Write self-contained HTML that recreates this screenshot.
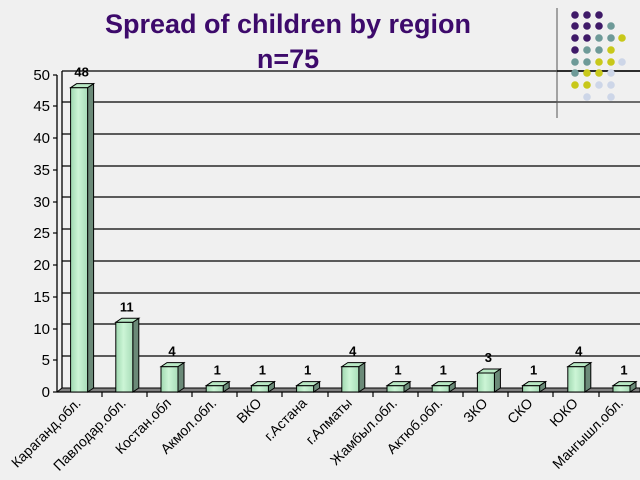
<!DOCTYPE html>
<html><head><meta charset="utf-8"><style>
body{margin:0;background:#f0f0f0;}
svg{display:block;font-family:"Liberation Sans",Arial,sans-serif;}
</style></head><body>
<svg id="s" width="640" height="480" viewBox="0 0 640 480">
<defs>
<linearGradient id="bf" x1="0" x2="1" y1="0" y2="0">
<stop offset="0" stop-color="#9fd8b0"/><stop offset="0.45" stop-color="#ccf5d6"/><stop offset="1" stop-color="#a8dcb8"/>
</linearGradient>
</defs>
<rect width="640" height="480" fill="#f0f0f0"/>
<g stroke="#000" stroke-width="1.3">
<line x1="62" y1="71" x2="640" y2="71"/>
<line x1="62" y1="102" x2="640" y2="102"/>
<line x1="62" y1="134" x2="640" y2="134"/>
<line x1="62" y1="166" x2="640" y2="166"/>
<line x1="62" y1="197" x2="640" y2="197"/>
<line x1="62" y1="229" x2="640" y2="229"/>
<line x1="62" y1="261" x2="640" y2="261"/>
<line x1="62" y1="293" x2="640" y2="293"/>
<line x1="62" y1="324" x2="640" y2="324"/>
<line x1="62" y1="356" x2="640" y2="356"/>
<line x1="62" y1="71" x2="62" y2="388"/>
</g>
<polygon points="57,392 62,388 640,388 640,392" fill="#808080" stroke="#000" stroke-width="1"/>
<line x1="57" y1="392" x2="640" y2="392" stroke="#000" stroke-width="1.3"/>
<line x1="57" y1="75" x2="57" y2="392" stroke="#000" stroke-width="1.3"/>
<g stroke="#000" stroke-width="1.2">
<line x1="53" y1="75" x2="57" y2="75"/><line x1="53" y1="106" x2="57" y2="106"/>
<line x1="53" y1="138" x2="57" y2="138"/><line x1="53" y1="170" x2="57" y2="170"/>
<line x1="53" y1="202" x2="57" y2="202"/><line x1="53" y1="233" x2="57" y2="233"/>
<line x1="53" y1="265" x2="57" y2="265"/><line x1="53" y1="297" x2="57" y2="297"/>
<line x1="53" y1="329" x2="57" y2="329"/><line x1="53" y1="360" x2="57" y2="360"/>
<line x1="53" y1="392" x2="57" y2="392"/>
</g>
<g font-size="15" fill="#000" text-anchor="end">
<text x="50" y="80">50</text><text x="50" y="111">45</text><text x="50" y="143">40</text>
<text x="50" y="175">35</text><text x="50" y="207">30</text><text x="50" y="238">25</text>
<text x="50" y="270">20</text><text x="50" y="302">15</text><text x="50" y="334">10</text>
<text x="50" y="365">5</text><text x="50" y="397">0</text>
</g>
<g stroke="#000" stroke-width="1.2">
<line x1="102" y1="392" x2="102" y2="397"/><line x1="147" y1="392" x2="147" y2="397"/>
<line x1="192" y1="392" x2="192" y2="397"/><line x1="237" y1="392" x2="237" y2="397"/>
<line x1="282" y1="392" x2="282" y2="397"/><line x1="328" y1="392" x2="328" y2="397"/>
<line x1="373" y1="392" x2="373" y2="397"/><line x1="418" y1="392" x2="418" y2="397"/>
<line x1="463" y1="392" x2="463" y2="397"/><line x1="508" y1="392" x2="508" y2="397"/>
<line x1="553" y1="392" x2="553" y2="397"/><line x1="599" y1="392" x2="599" y2="397"/>
</g>
<g id="bars" stroke="#000" stroke-width="1"></g>
<g fill="#3d0a6b" font-weight="bold" text-anchor="middle" font-size="27">
<text x="288" y="33">Spread of children by region</text>
<text x="288" y="68">n=75</text>
</g>
<line x1="557" y1="8" x2="557" y2="118" stroke="#555" stroke-width="1"/>
<line x1="557" y1="71" x2="640" y2="71" stroke="#000" stroke-width="1.5"/>
<line x1="557" y1="102" x2="640" y2="102" stroke="#555" stroke-width="1.5"/>
<g>
<circle cx="575" cy="15" r="3.8" fill="#3f1a68"/><circle cx="587" cy="15" r="3.8" fill="#3f1a68"/><circle cx="599" cy="15" r="3.8" fill="#3f1a68"/>
<circle cx="575" cy="26" r="3.8" fill="#3f1a68"/><circle cx="587" cy="26" r="3.8" fill="#3f1a68"/><circle cx="599" cy="26" r="3.8" fill="#3f1a68"/><circle cx="611" cy="26" r="3.8" fill="#6e9a98"/>
<circle cx="575" cy="38" r="3.8" fill="#3f1a68"/><circle cx="587" cy="38" r="3.8" fill="#3f1a68"/><circle cx="599" cy="38" r="3.8" fill="#6e9a98"/><circle cx="611" cy="38" r="3.8" fill="#6e9a98"/><circle cx="622" cy="38" r="3.8" fill="#c8c81a"/>
<circle cx="575" cy="50" r="3.8" fill="#3f1a68"/><circle cx="587" cy="50" r="3.8" fill="#6e9a98"/><circle cx="599" cy="50" r="3.8" fill="#6e9a98"/><circle cx="611" cy="50" r="3.8" fill="#c8c81a"/>
<circle cx="575" cy="62" r="3.8" fill="#6e9a98"/><circle cx="587" cy="62" r="3.8" fill="#6e9a98"/><circle cx="599" cy="62" r="3.8" fill="#c8c81a"/><circle cx="611" cy="62" r="3.8" fill="#c8c81a"/><circle cx="622" cy="62" r="3.8" fill="#cdd6e8"/>
<circle cx="575" cy="73" r="3.8" fill="#6e9a98"/><circle cx="587" cy="73" r="3.8" fill="#c8c81a"/><circle cx="599" cy="73" r="3.8" fill="#c8c81a"/><circle cx="611" cy="73" r="3.8" fill="#cdd6e8"/>
<circle cx="575" cy="85" r="3.8" fill="#c8c81a"/><circle cx="587" cy="85" r="3.8" fill="#c8c81a"/><circle cx="599" cy="85" r="3.8" fill="#cdd6e8"/><circle cx="611" cy="85" r="3.8" fill="#cdd6e8"/>
<circle cx="587" cy="97" r="3.8" fill="#cdd6e8"/><circle cx="611" cy="97" r="3.8" fill="#cdd6e8"/>
</g>
</svg>
<script>
(function(){
var vals=[48,11,4,1,1,1,4,1,1,3,1,4,1];
var labels=["Караганд.обл.","Павлодар.обл.","Костан.обл","Акмол.обл.","ВКО","г.Астана","г.Алматы","Жамбыл.обл.","Актюб.обл.","ЗКО","СКО","ЮКО","Мангышл.обл."];
var ns="http://www.w3.org/2000/svg",g=document.getElementById("bars"),svg=document.getElementById("s");
function el(t,a,p){var e=document.createElementNS(ns,t);for(var k in a)e.setAttribute(k,a[k]);(p||g).appendChild(e);return e;}
for(var i=0;i<13;i++){
 var c=79.6+45.2*i,x=c-9,w=17,ty=392-vals[i]*6.34,d=6,u=4;
 el("polygon",{points:(x+w)+",392 "+(x+w+d)+","+(392-u)+" "+(x+w+d)+","+(ty-u)+" "+(x+w)+","+ty,fill:"#6b8a78"});
 el("rect",{x:x,y:ty,width:w,height:392-ty,fill:"url(#bf)"});
 el("polygon",{points:x+","+ty+" "+(x+d)+","+(ty-u)+" "+(x+w+d)+","+(ty-u)+" "+(x+w)+","+ty,fill:"#b8e8c4"});
 var t=el("text",{x:c+2,y:ty-11,"font-size":"13","font-weight":"bold","text-anchor":"middle",fill:"#000"},svg);t.textContent=vals[i];
 var l=el("text",{x:0,y:0,"font-size":"14","text-anchor":"end",fill:"#000",transform:"translate("+(c+2)+",404) rotate(-45)"},svg);l.textContent=labels[i];
}
})();
</script>
</body></html>
